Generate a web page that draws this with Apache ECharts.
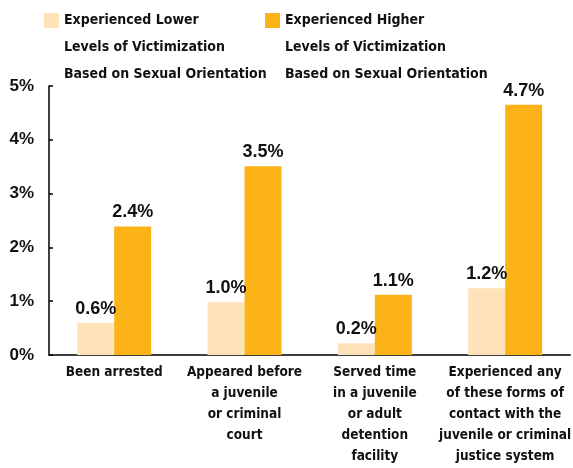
<!DOCTYPE html>
<html>
<head>
<meta charset="utf-8">
<script src="https://cdn.jsdelivr.net/npm/echarts@6/dist/echarts.min.js"></script>
<style>
  html, body { margin: 0; padding: 0; background: #fff; overflow: hidden; }
  #chart { width: 573px; height: 468px; }
</style>
</head>
<body>
<div id="chart"></div>
<script>
// categories along the x axis
var categories = [
  'Been arrested',
  'Appeared before\na juvenile\nor criminal\ncourt',
  'Served time\nin a juvenile\nor adult\ndetention\nfacility',
  'Experienced any\nof these forms of\ncontact with the\njuvenile or criminal\njustice system'
]
var seriesNames = [
  'Experienced Lower\nLevels of Victimization\nBased on Sexual Orientation',
  'Experienced Higher\nLevels of Victimization\nBased on Sexual Orientation'
]
// percent
var lowerValues = [0.6, 0.98, 0.22, 1.24]
var higherValues = [2.39, 3.51, 1.12, 4.65]
var yTicks = [0, 1, 2, 3, 4, 5]

var lightColor = '#FEE3BA'
var orangeColor = '#FCB317'
var narrowFont = '"DejaVu Sans Condensed", "Liberation Sans", sans-serif'
// square swatch at the top of a tall box so it lines up with the first text line
var swatch = 'path://M0,0H15V15H0Z M0,69L15,69'

var chart = echarts.init(document.getElementById('chart'))

var legendText = {
  fontFamily: narrowFont,
  fontWeight: 'bold',
  fontSize: 14,
  lineHeight: 27,
  color: '#111'
}
var valueLabel = {
  show: true,
  position: 'top',
  distance: 5,
  fontFamily: 'Liberation Sans',
  fontWeight: 'bold',
  fontSize: 18,
  color: '#111',
  formatter: function (p) { return p.value.toFixed(1) + '%' }
}

chart.setOption({
  animation: false,
  legend: [{
    data: [seriesNames[0]],
    left: 44,
    top: 7,
    padding: 0,
    icon: swatch,
    itemWidth: 15,
    itemHeight: 69,
    selectedMode: false,
    textStyle: legendText
  }, {
    data: [seriesNames[1]],
    left: 265,
    top: 7,
    padding: 0,
    icon: swatch,
    itemWidth: 15,
    itemHeight: 69,
    selectedMode: false,
    textStyle: legendText
  }],
  grid: {
    left: 49,
    right: -7,
    top: 86,
    bottom: 113,
    containLabel: false
  },
  xAxis: {
    type: 'category',
    data: categories,
    axisLine: { lineStyle: { color: '#000', width: 1.5 } },
    axisTick: { inside: true, length: 5, lineStyle: { color: '#000', width: 1.5 } },
    axisLabel: {
      interval: 0,
      margin: 7,
      fontFamily: narrowFont,
      fontWeight: 'bold',
      fontSize: 13.5,
      lineHeight: 21,
      color: '#111'
    }
  },
  yAxis: {
    type: 'value',
    min: yTicks[0],
    max: yTicks[yTicks.length - 1],
    interval: 1,
    axisLine: { show: true, lineStyle: { color: '#000', width: 1.5 } },
    axisTick: { show: true, inside: true, length: 4, lineStyle: { color: '#000', width: 1.5 } },
    splitLine: { show: false },
    axisLabel: {
      margin: 15,
      fontFamily: 'Liberation Sans',
      fontWeight: 'bold',
      fontSize: 17,
      color: '#111',
      formatter: '{value}%'
    }
  },
  series: [{
    name: seriesNames[0],
    type: 'bar',
    data: lowerValues,
    barWidth: 37,
    barGap: '0%',
    itemStyle: { color: lightColor },
    label: valueLabel
  }, {
    name: seriesNames[1],
    type: 'bar',
    data: higherValues,
    barWidth: 37,
    barGap: '0%',
    itemStyle: { color: orangeColor },
    label: valueLabel
  }]
})
</script>
</body>
</html>
